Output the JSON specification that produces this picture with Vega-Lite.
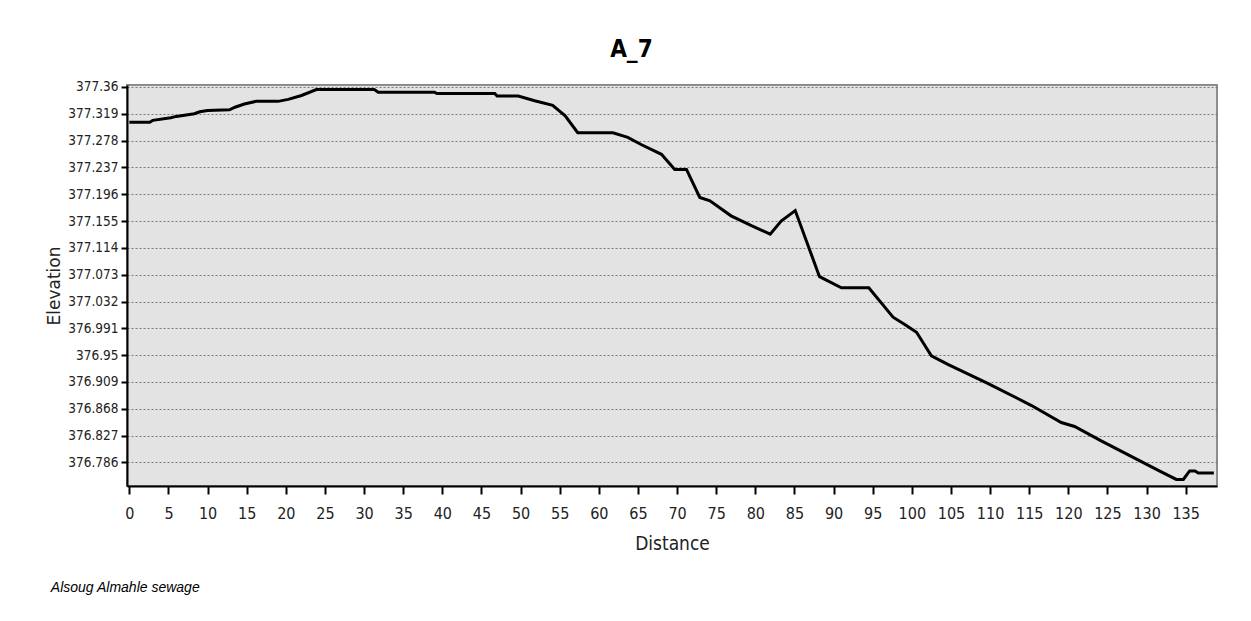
{
  "$schema": "https://vega.github.io/schema/vega-lite/v6.json",
  "background": "white",
  "padding": {"left": 44, "top": 36, "right": 35, "bottom": 16},
  "title": {"text": "Alsoug Almahle sewage", "orient": "bottom", "anchor": "start", "font": "Liberation Sans", "fontStyle": "italic", "fontWeight": "normal", "fontSize": 14, "color": "black", "offset": 27, "dx": 6},
  "config": {
    "view": {"stroke": "#8c8c8c", "strokeWidth": 2, "fill": "#e3e3e3"},
    "axis": {"labelColor": "#222222", "titleColor": "#222222", "domainColor": "black", "domainWidth": 2, "tickColor": "black", "tickWidth": 2}
  },
  "vconcat": [
    {
      "width": 1090,
      "height": 401,
      "title": {"text": "A_7", "fontSize": 24, "font": "DejaVu Sans Condensed, Liberation Sans", "fontWeight": "bold", "color": "black", "offset": 18, "frame": "bounds"},
      "data": {"values": [
        {"distance": 0, "elevation": 377.306},
        {"distance": 2.6, "elevation": 377.306},
        {"distance": 3.0, "elevation": 377.309},
        {"distance": 5.3, "elevation": 377.313},
        {"distance": 6.0, "elevation": 377.315},
        {"distance": 8.3, "elevation": 377.319},
        {"distance": 9.0, "elevation": 377.322},
        {"distance": 10.0, "elevation": 377.324},
        {"distance": 12.8, "elevation": 377.325},
        {"distance": 13.5, "elevation": 377.329},
        {"distance": 14.7, "elevation": 377.334},
        {"distance": 16.2, "elevation": 377.338},
        {"distance": 19.0, "elevation": 377.338},
        {"distance": 20.3, "elevation": 377.341},
        {"distance": 22.0, "elevation": 377.347},
        {"distance": 23.9, "elevation": 377.356},
        {"distance": 31.3, "elevation": 377.356},
        {"distance": 31.8, "elevation": 377.352},
        {"distance": 39.0, "elevation": 377.352},
        {"distance": 39.3, "elevation": 377.350},
        {"distance": 46.7, "elevation": 377.350},
        {"distance": 47.0, "elevation": 377.346},
        {"distance": 49.7, "elevation": 377.346},
        {"distance": 51.8, "elevation": 377.339},
        {"distance": 54.1, "elevation": 377.332},
        {"distance": 55.7, "elevation": 377.316},
        {"distance": 57.3, "elevation": 377.290},
        {"distance": 61.8, "elevation": 377.290},
        {"distance": 63.7, "elevation": 377.283},
        {"distance": 65.4, "elevation": 377.272},
        {"distance": 68.0, "elevation": 377.257},
        {"distance": 69.7, "elevation": 377.234},
        {"distance": 71.2, "elevation": 377.234},
        {"distance": 72.9, "elevation": 377.191},
        {"distance": 74.2, "elevation": 377.186},
        {"distance": 76.9, "elevation": 377.163},
        {"distance": 79.5, "elevation": 377.148},
        {"distance": 81.9, "elevation": 377.135},
        {"distance": 83.3, "elevation": 377.155},
        {"distance": 85.1, "elevation": 377.171},
        {"distance": 88.2, "elevation": 377.070},
        {"distance": 91.0, "elevation": 377.053},
        {"distance": 94.5, "elevation": 377.053},
        {"distance": 97.6, "elevation": 377.008},
        {"distance": 99.1, "elevation": 376.997},
        {"distance": 100.6, "elevation": 376.985},
        {"distance": 102.5, "elevation": 376.949},
        {"distance": 104.6, "elevation": 376.936},
        {"distance": 109.7, "elevation": 376.907},
        {"distance": 115.3, "elevation": 376.873},
        {"distance": 119.1, "elevation": 376.847},
        {"distance": 120.8, "elevation": 376.841},
        {"distance": 124.2, "elevation": 376.819},
        {"distance": 131.5, "elevation": 376.774},
        {"distance": 133.8, "elevation": 376.760},
        {"distance": 134.7, "elevation": 376.760},
        {"distance": 135.5, "elevation": 376.773},
        {"distance": 136.2, "elevation": 376.773},
        {"distance": 136.6, "elevation": 376.770},
        {"distance": 138.6, "elevation": 376.770}
      ]},
      "mark": {"type": "line", "color": "black", "strokeWidth": 3, "clip": true, "strokeJoin": "miter"},
      "encoding": {
        "x": {
          "field": "distance", "type": "quantitative",
          "scale": {"domain": [-0.3, 139], "nice": false, "zero": false},
          "axis": {
            "values": [0,5,10,15,20,25,30,35,40,45,50,55,60,65,70,75,80,85,90,95,100,105,110,115,120,125,130,135],
            "grid": false, "tickSize": 8, "labelPadding": 11,
            "labelFont": "DejaVu Sans Condensed, Liberation Sans", "labelFontSize": 16,
            "title": "Distance", "titleFont": "DejaVu Sans Condensed, Liberation Sans", "titleFontSize": 19, "titleFontWeight": "normal", "titlePadding": 13
          }
        },
        "y": {
          "field": "elevation", "type": "quantitative",
          "scale": {"domain": [376.75, 377.363], "nice": false, "zero": false},
          "axis": {
            "values": [376.786, 376.827, 376.868, 376.909, 376.95, 376.991, 377.032, 377.073, 377.114, 377.155, 377.196, 377.237, 377.278, 377.319, 377.36],
            "format": ".3~f",
            "grid": true, "gridColor": "#7a7a7a", "gridDash": [2, 2], "gridWidth": 1,
            "tickSize": 6, "labelPadding": 3,
            "labelFont": "DejaVu Sans Condensed, Liberation Sans", "labelFontSize": 13.5,
            "title": "Elevation", "titleFont": "DejaVu Sans", "titleFontSize": 17, "titleFontWeight": "normal", "titlePadding": 4
          }
        }
      }
    }
  ]
}
